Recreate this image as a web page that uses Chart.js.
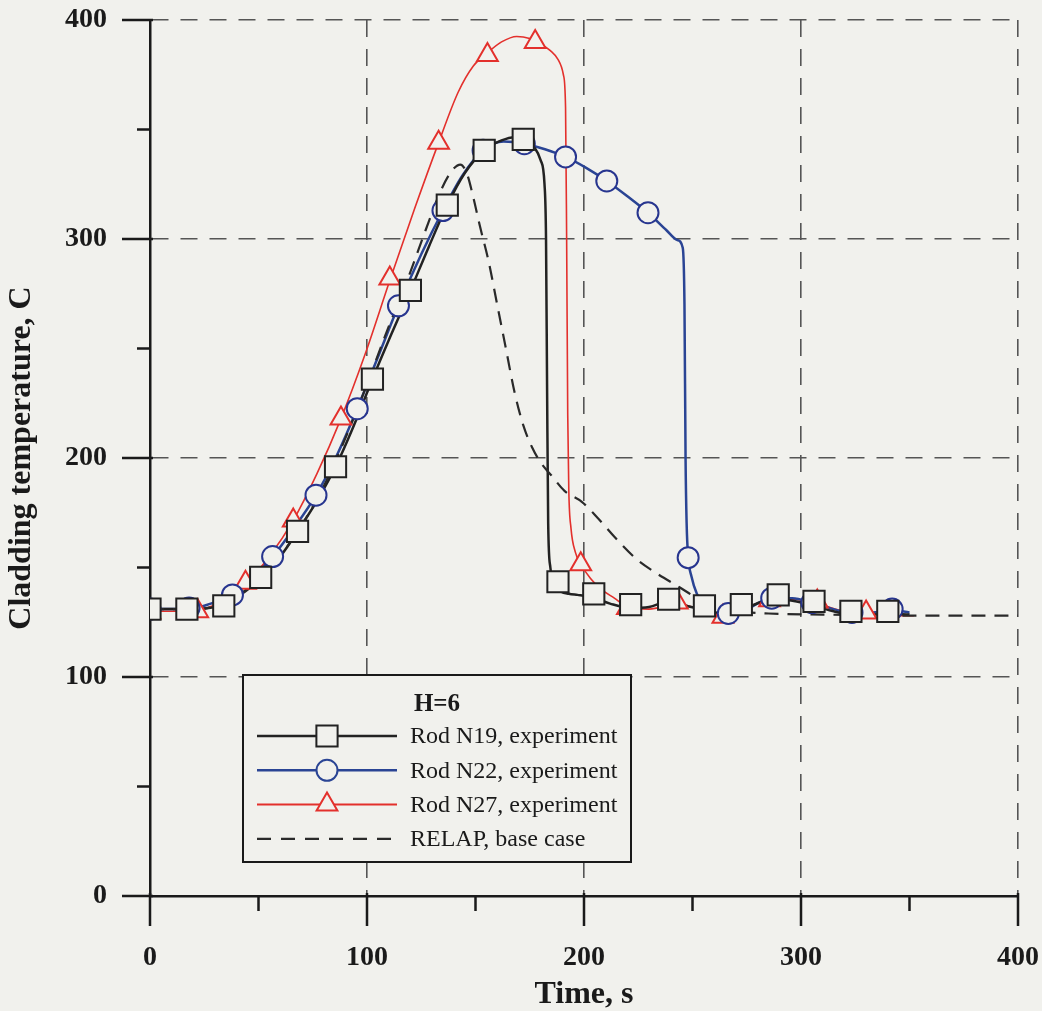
<!DOCTYPE html>
<html>
<head>
<meta charset="utf-8">
<script src="https://cdn.jsdelivr.net/npm/chart.js@4.4.1/dist/chart.umd.min.js"></script>
<style>
  html, body { margin: 0; padding: 0; background: #f1f1ed; }
  #wrap { width: 1042px; height: 1011px; }
</style>
</head>
<body>
<div id="wrap"><canvas id="chart" width="1042" height="1011"></canvas></div>
<script>
// axis ticks
const xMajorTicks = [0, 100, 200, 300, 400];
const xMinorTicks = [50, 150, 250, 350];
const yMajorTicks = [0, 100, 200, 300, 400];
const yMinorTicks = [50, 150, 250, 350];

// Rod N19 (squares)
const n19Curve = [[0,131],[17,131],[34,133],[42,138],[51,145.5],[60,155],[68,166.5],[77,180.5],[85.5,196],[94,215],[102.5,236],[111,256],[120,276.5],[128.5,296.5],[137,315.5],[145,330],[154,340.5],[162,345],[168,346.5],[173,345.5],[177,342],[180,336],[181.8,325],[182.5,300],[183,230],[183.5,170],[184.5,150],[186.5,142],[189.5,139],[193,138],[197,137.5],[201,137],[205,136],[212,133.5],[221.5,131.5],[230,132],[239,134.5],[247,132.5],[255.5,130.5],[264,129],[272.5,130.5],[281,134],[289.5,135.5],[298,134.5],[306,132.5],[315,130],[323,128.5],[332,128.5],[340,129],[350,128.5]];
const n19Marks = [[0,131],[17,131],[34,132.5],[51,145.5],[68,166.5],[85.5,196],[102.5,236],[120,276.5],[137,315.5],[154,340.5],[172,345.5],[188,143.5],[204.5,138],[221.5,133],[239,135.5],[255.5,132.5],[272.5,133],[289.5,137.5],[306,134.5],[323,130],[340,130]];

// Rod N22 (circles)
const n22Curve = [[0,131],[18,131],[28,133.5],[38,137.5],[47,145],[56.5,155],[66,167.5],[76.5,183],[86,201],[95.5,222.5],[105,246],[114.5,269.5],[125,293],[135,313],[144,329],[153.5,340.5],[163,344.5],[172.5,343.5],[182,341],[191.5,337.5],[201,332.5],[210.5,326.5],[220,319.5],[229.5,312],[238,304],[243,299.5],[245.5,296],[246.3,270],[246.8,200],[247.3,170],[248,155],[249.5,146],[252,138],[256,132],[261,128.5],[266.5,128],[275,131],[286.5,136],[296,136],[305,134],[315,131],[323.5,129],[333,129.5],[342,130.5],[350,129.5]];
const n22Marks = [[0,131],[18,131.5],[38,137.5],[56.5,155],[76.5,183],[95.5,222.5],[114.5,269.5],[135,313],[153.5,340.5],[172.5,343.5],[191.5,337.5],[210.5,326.5],[229.5,312],[248,154.5],[266.5,129],[286.5,136],[305,134],[323.5,129.5],[342,131]];

// Rod N27 (triangles)
const n27Curve = [[0,130],[10,130],[22,130.5],[32,134],[44,142.5],[55,155],[66,171.5],[77,193],[88,218],[99,247],[110.5,281],[122,314],[133,344],[142,367],[149,379],[155.5,385],[162,390],[169,392.5],[175,391.5],[180,389],[184.5,386],[188,382],[190.5,375],[191.5,360],[192,300],[192.5,220],[193,185],[194,168],[196,157],[198.5,151.5],[203,145],[208,140],[214,136],[220,132],[230,131],[243,133.5],[253,131],[264,128],[274,131.5],[285.5,135],[296,135.5],[307.5,133.5],[318,130.5],[330,129],[340,128],[352,128]];
const n27Marks = [[0,129.5],[22,130],[44,143],[66,171.5],[88,218],[110.5,282],[133,344],[155.5,384],[177.5,390],[198.5,151.5],[220,131.5],[243,134],[264,127.5],[285.5,135],[307.5,134.5],[330,129.5]];

// RELAP, base case (dashed)
const relapCurve = [[0,131],[20,131],[35,134],[50,144],[65,162],[80,187],[95,221],[110,260],[120,285],[127,304],[134,322],[139,331],[143,334],[146,330],[149,319],[152,306],[156,290],[160,270],[164,250],[168,230],[172,215],[176,205],[180,198],[185,192],[191,185],[199,180],[206,173],[214,164],[224,154],[234,147],[244,141],[252,136],[260,132],[270,130],[285,129],[310,128.5],[350,128],[400,128]];

const paper = "#f1f1ed";
const ink = "#1a1a1a";
const serif = "'Liberation Serif', 'Times New Roman', serif";

const toXY = (arr) => arr.map(([x, y]) => ({ x: x, y: y }));

function curve(label, data, color, width, dash) {
    return {
        label: label,
        data: toXY(data),
        borderColor: color,
        borderWidth: width,
        borderDash: dash || [],
        pointRadius: 0,
        cubicInterpolationMode: "monotone",
        fill: false,
        order: 2,
    };
}

function marks(label, data, color, style, radius) {
    return {
        label: label,
        data: toXY(data),
        showLine: false,
        pointStyle: style,
        pointRadius: radius,
        pointBorderColor: color,
        pointBorderWidth: 2,
        pointBackgroundColor: paper,
        order: 1,
    };
}

const legendRows = [
    { text: "Rod N19, experiment", color: "#222222", width: 2.5, style: "rect", radius: 15 },
    { text: "Rod N22, experiment", color: "#2a4494", width: 2.5, style: "circle", radius: 10.5 },
    { text: "Rod N27, experiment", color: "#e3302c", width: 2, style: "triangle", radius: 12 },
    { text: "RELAP, base case", color: "#2a2a2a", width: 2.2, style: null, radius: 0 },
];

const paperPlugin = {
    id: "paperPlugin",
    beforeDraw(chart) {
        const ctx = chart.ctx;
        ctx.save();
        ctx.fillStyle = paper;
        ctx.fillRect(0, 0, chart.width, chart.height);
        ctx.restore();
    },
    afterDraw(chart) {
        const ctx = chart.ctx;
        const xs = chart.scales.x;
        const ys = chart.scales.y;
        const area = chart.chartArea;

        // tick marks
        ctx.save();
        ctx.strokeStyle = ink;
        ctx.lineWidth = 2.5;
        ctx.beginPath();
        xMajorTicks.forEach((v) => {
            const px = xs.getPixelForValue(v);
            ctx.moveTo(px, area.bottom - 3);
            ctx.lineTo(px, area.bottom + 30);
        });
        xMinorTicks.forEach((v) => {
            const px = xs.getPixelForValue(v);
            ctx.moveTo(px, area.bottom);
            ctx.lineTo(px, area.bottom + 15);
        });
        yMajorTicks.forEach((v) => {
            const py = ys.getPixelForValue(v);
            ctx.moveTo(area.left - 28, py);
            ctx.lineTo(area.left + 3, py);
        });
        yMinorTicks.forEach((v) => {
            const py = ys.getPixelForValue(v);
            ctx.moveTo(area.left - 13, py);
            ctx.lineTo(area.left, py);
        });
        ctx.stroke();
        ctx.restore();

        // legend box
        const bx = 243, by = 675, bw = 388, bh = 187;
        ctx.save();
        ctx.fillStyle = paper;
        ctx.fillRect(bx, by, bw, bh);
        ctx.strokeStyle = ink;
        ctx.lineWidth = 2;
        ctx.strokeRect(bx, by, bw, bh);

        ctx.fillStyle = ink;
        ctx.font = "bold 25px " + serif;
        ctx.textAlign = "center";
        ctx.textBaseline = "middle";
        ctx.fillText("H=6", 437, 705);

        ctx.font = "24px " + serif;
        ctx.textAlign = "left";
        legendRows.forEach((row, i) => {
            const y = 736 + i * 34.3;
            ctx.save();
            ctx.strokeStyle = row.color;
            ctx.lineWidth = row.width;
            ctx.setLineDash(row.style ? [] : [14, 10]);
            ctx.beginPath();
            ctx.moveTo(257, y);
            ctx.lineTo(397, y);
            ctx.stroke();
            ctx.restore();
            if (row.style) {
                ctx.save();
                ctx.fillStyle = paper;
                ctx.strokeStyle = row.color;
                Chart.helpers.drawPoint(ctx, {
                    pointStyle: row.style,
                    radius: row.radius,
                    borderWidth: 2,
                    rotation: 0,
                }, 327, y);
                ctx.restore();
            }
            ctx.fillStyle = ink;
            ctx.fillText(row.text, 410, y + 1);
        });
        ctx.restore();
    },
};

const config = {
    type: "line",
    data: {
        datasets: [
            curve("RELAP, base case", relapCurve, "#2a2a2a", 2.2, [14, 9]),
            curve("Rod N19, experiment", n19Curve, "#222222", 2.5),
            curve("Rod N22, experiment", n22Curve, "#2a4494", 2.5),
            curve("Rod N27, experiment", n27Curve, "#e3302c", 1.6),
            marks("Rod N19 marks", n19Marks, "#222222", "rect", 15),
            marks("Rod N22 marks", n22Marks, "#27358f", "circle", 10.5),
            marks("Rod N27 marks", n27Marks, "#e3302c", "triangle", 12),
        ],
    },
    options: {
        responsive: false,
        animation: false,
        devicePixelRatio: 1,
        layout: {
            autoPadding: false,
            padding: { left: 0, right: 24, top: 20, bottom: 0 },
        },
        scales: {
            x: {
                type: "linear",
                min: 0,
                max: 400,
                afterFit: (scale) => {
                    scale.height = 115;
                    scale.paddingLeft = 0;
                    scale.paddingRight = 0;
                },
                ticks: {
                    stepSize: 100,
                    padding: 45,
                    color: ink,
                    font: { family: serif, size: 28, weight: "bold" },
                    maxRotation: 0,
                },
                grid: {
                    drawTicks: false,
                    color: (c) => (c.tick && c.tick.value === 0 ? "rgba(0,0,0,0)" : "#555555"),
                    lineWidth: 1.6,
                },
                border: { display: true, color: ink, width: 2.5, dash: [17, 12] },
                title: {
                    display: true,
                    text: "Time, s",
                    color: ink,
                    font: { family: serif, size: 32, weight: "bold", lineHeight: 1 },
                    padding: { top: 0, bottom: 0 },
                },
            },
            y: {
                type: "linear",
                min: 0,
                max: 400,
                afterFit: (scale) => {
                    scale.width = 150;
                    scale.paddingTop = 0;
                    scale.paddingBottom = 0;
                },
                ticks: {
                    stepSize: 100,
                    padding: 43,
                    color: ink,
                    font: { family: serif, size: 28, weight: "bold" },
                },
                grid: {
                    drawTicks: false,
                    color: (c) => (c.tick && c.tick.value === 0 ? "rgba(0,0,0,0)" : "#555555"),
                    lineWidth: 1.6,
                },
                border: { display: true, color: ink, width: 2.5, dash: [17, 12] },
                title: {
                    display: true,
                    text: "Cladding temperature, C",
                    color: ink,
                    font: { family: serif, size: 32, weight: "bold", lineHeight: 1 },
                    padding: { top: 6, bottom: 0 },
                },
            },
        },
        plugins: {
            legend: { display: false },
            tooltip: { enabled: false },
        },
    },
    plugins: [paperPlugin],
};

new Chart(document.getElementById("chart"), config);
</script>
</body>
</html>
